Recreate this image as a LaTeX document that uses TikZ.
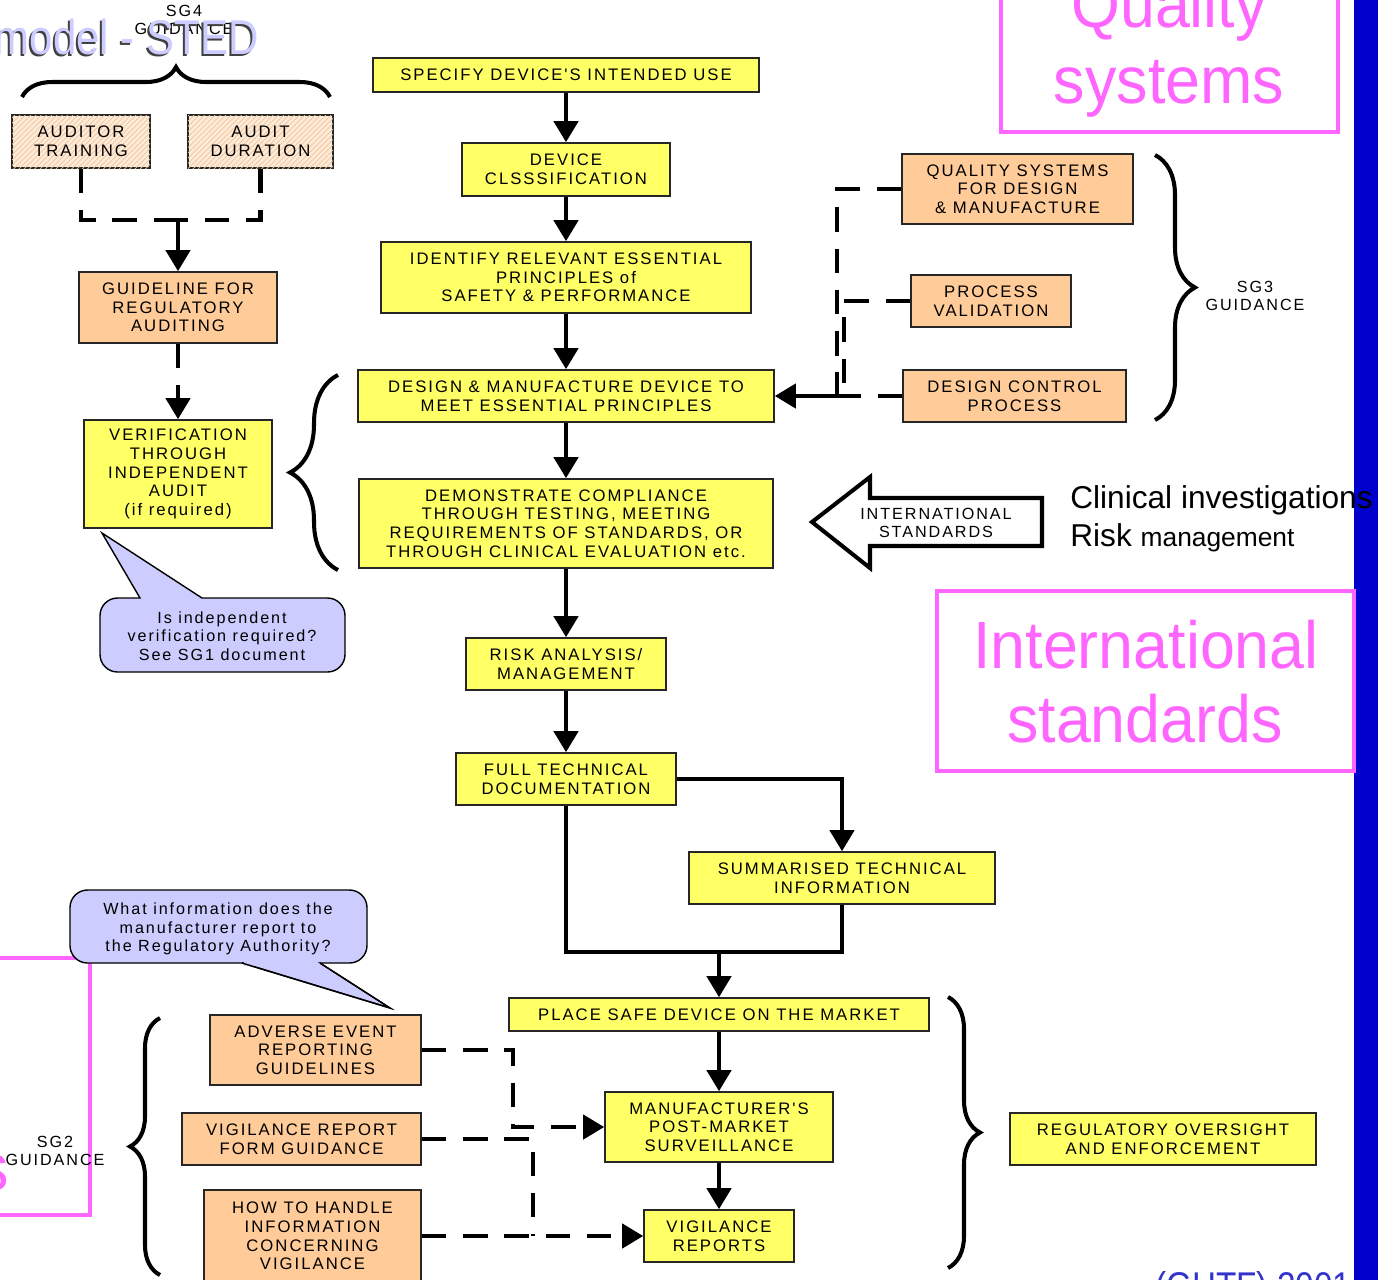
\documentclass[tikz,border=0pt]{standalone}
\usepackage{fontspec}
\setmainfont{Liberation Sans}
\newfontfamily\spaced[LetterSpace=12]{Liberation Sans}
\newfontfamily\bigsans[FakeStretch=0.94]{Liberation Sans}
\newfontfamily\titlesans[FakeStretch=0.86]{Liberation Sans}
\usetikzlibrary{arrows.meta,decorations.pathreplacing,patterns}

\definecolor{boxyellow}{HTML}{FFFF66}
\definecolor{boxpeach}{HTML}{FFCC99}
\definecolor{hatchbase}{HTML}{FDEBD8}
\definecolor{hatchline}{HTML}{F0C49C}
\definecolor{calloutfill}{HTML}{CCCCFF}
\definecolor{slidepink}{HTML}{FF66FF}
\definecolor{slideblue}{HTML}{0000CC}
\definecolor{creditblue}{HTML}{3333CC}

% box given by its pixel corners: name, style, x1, y1, x2, y2, text
\newcommand\flowbox[7]{\node[#2, minimum width={(#5-#3)*0.02cm}, minimum height={(#6-#4)*0.02cm}] (#1) at ({(#3+#5)/2},{(#4+#6)/2}) {#7};}

\tikzset{
  boxbase/.style={draw=black!85, line width=0.8pt, inner sep=0pt, align=center,
    font=\spaced\fontsize{9.5}{10.6}\selectfont},
  ybox/.style={boxbase, fill=boxyellow},
  pbox/.style={boxbase, fill=boxpeach},
  hbox/.style={boxbase, fill=hatchbase, postaction={pattern=north east lines, pattern color=hatchline}},
  flow/.style={line width=2.8pt},
  arr/.style={flow, -{Triangle[length=12pt,width=13.5pt]}},
  dsh/.style={flow, dash pattern=on 14pt off 9.5pt},
  darr/.style={dsh, -{Triangle[length=12pt,width=13.5pt]}},
  bracket/.style={line width=2.3pt, decorate, decoration={brace, amplitude=#1}},
  callout/.style={draw=black, line width=0.8pt, fill=calloutfill},
  calltext/.style={align=center, inner sep=0pt, font=\spaced\fontsize{9.2}{10.4}\selectfont},
  sglabel/.style={align=center, inner sep=0pt, font=\spaced\fontsize{9.2}{10.4}\selectfont},
  pinkframe/.style={draw=slidepink, line width=2.4pt},
  pinktext/.style={text=slidepink, inner sep=0pt, font=\bigsans\fontsize{38}{42}\selectfont},
}

\begin{document}
\begin{tikzpicture}[x=0.02cm, y=-0.02cm]
\useasboundingbox (0,0) rectangle (1378,1279);
\begin{scope}
\clip (0,0) rectangle (1378,1279);

% slide decorations
\fill[slideblue] (1354,-5) rectangle (1385,1285);
\draw[pinkframe] (1001,-20) rectangle (1338,132);
\node[pinktext, anchor=base] (qtitle) at (1169,27) {Quality};
\node[pinktext, anchor=base] (stitle) at (1169,103) {systems};
\draw[pinkframe] (937,591) rectangle (1354,771);
\node[pinktext, anchor=base] (ititle) at (1146,668) {International};
\node[pinktext, anchor=base] (sdtitle) at (1145,742) {standards};
\draw[pinkframe] (-20,958) -- (90,958) -- (90,1215) -- (-20,1215);
\node[pinktext, anchor=base east] (leftpink) at (9,1190) {s};
\node[anchor=base west, inner sep=0pt, text=creditblue, font=\titlesans\fontsize{22}{24}\selectfont] (credit) at (1155,1299) {(GHTF) 2001};

% SG4 group
\node[sglabel] (sg4) at (184,20) {SG4\\GUIDANCE};
\node[anchor=base east, inner sep=0pt, text=black!75, font=\titlesans\fontsize{27.8}{30}\selectfont] (titleshadow) at (257,56) {model - STED};
\node[anchor=base east, inner sep=0pt, text=calloutfill, font=\titlesans\fontsize{27.8}{30}\selectfont] (title) at (259,54) {model - STED};
\draw[bracket=0.6cm] (22,97) -- (330,97);

\flowbox{at}{hbox}{12}{115}{150}{168}{AUDITOR\\TRAINING}
\flowbox{ad}{hbox}{188}{115}{333}{168}{AUDIT\\DURATION}
\flowbox{guide}{pbox}{79}{272}{277}{343}{GUIDELINE FOR\\REGULATORY\\AUDITING}
\flowbox{verif}{ybox}{84}{420}{272}{528}{VERIFICATION\\THROUGH\\INDEPENDENT\\AUDIT\\(if required)}

\coordinate (sg4join) at (178,220);
\draw[dsh] (at.south) |- (sg4join);
\draw[dsh] (ad.south) |- (sg4join);
\draw[arr] (sg4join) -- (guide.north);
\draw[darr] (guide.south) -- (verif.north);

% first callout
\draw[callout] (202,598) [rounded corners=10pt] -- (345,598) -- (345,672) -- (100,672) -- (100,598) [sharp corners] -- (140,598) -- (102,533) -- cycle;
\node[calltext] (callone) at (222,636) {Is independent\\verification required?\\See SG1 document};

% main column
\flowbox{specify}{ybox}{373}{58}{759}{92}{SPECIFY DEVICE'S INTENDED USE}
\flowbox{device}{ybox}{462}{143}{670}{196}{DEVICE\\CLSSSIFICATION}
\flowbox{identify}{ybox}{381}{242}{751}{313}{IDENTIFY RELEVANT ESSENTIAL\\PRINCIPLES of\\SAFETY \& PERFORMANCE}
\flowbox{design}{ybox}{358}{370}{774}{422}{DESIGN \& MANUFACTURE DEVICE TO\\MEET ESSENTIAL PRINCIPLES}
\flowbox{demo}{ybox}{359}{479}{773}{568}{DEMONSTRATE COMPLIANCE\\THROUGH TESTING, MEETING\\REQUIREMENTS OF STANDARDS, OR\\THROUGH CLINICAL EVALUATION etc.}
\flowbox{risk}{ybox}{466}{638}{666}{690}{RISK ANALYSIS/\\MANAGEMENT}
\flowbox{fulltech}{ybox}{456}{753}{676}{805}{FULL TECHNICAL\\DOCUMENTATION}
\flowbox{summ}{ybox}{689}{852}{995}{904}{SUMMARISED TECHNICAL\\INFORMATION}
\flowbox{market}{ybox}{509}{998}{929}{1031}{PLACE SAFE DEVICE ON THE MARKET}
\flowbox{mps}{ybox}{605}{1092}{833}{1162}{MANUFACTURER'S\\POST-MARKET\\SURVEILLANCE}
\flowbox{vr}{ybox}{644}{1210}{794}{1262}{VIGILANCE\\REPORTS}
\flowbox{regov}{ybox}{1010}{1113}{1316}{1165}{REGULATORY OVERSIGHT\\AND ENFORCEMENT}

\draw[arr] (specify) -- (device);
\draw[arr] (device) -- (identify);
\draw[arr] (identify) -- (design);
\draw[arr] (design) -- (demo);
\draw[arr] (demo) -- (risk);
\draw[arr] (risk) -- (fulltech);
\draw[arr] (fulltech.east) -| (summ.north);
\coordinate (merge) at (719,952);
\draw[flow] (fulltech.south) |- (merge);
\draw[flow] (summ.south) |- (merge);
\draw[arr] (merge) -- (market.north);
\draw[arr] (market) -- (mps);
\draw[arr] (mps) -- (vr);

\draw[bracket=0.96cm] (338,570) -- (338,375);
\draw[bracket=0.64cm] (948,997) -- (948,1268);

% SG3 group
\flowbox{qs}{pbox}{902}{154}{1133}{224}{QUALITY SYSTEMS\\FOR DESIGN\\\& MANUFACTURE}
\flowbox{pv}{pbox}{911}{275}{1071}{327}{PROCESS\\VALIDATION}
\flowbox{dcp}{pbox}{903}{370}{1126}{422}{DESIGN CONTROL\\PROCESS}
\coordinate (qsbus) at (837,396);
\coordinate (pvbus) at (844,396);
\coordinate (bus) at (842,396);
\draw[dsh] (qs.west) -| (qsbus);
\draw[dsh] (pv.west) -| (pvbus);
\draw[dsh] (dcp.west) -- (bus);
\draw[arr] (bus) -- (design.east);
\draw[bracket=0.8cm] (1155,155) -- (1155,420);
\node[sglabel] (sg3) at (1255,296) {SG3\\GUIDANCE};

% international standards arrow
\draw[line width=2.3pt, fill=white] (1042,498) -- (870,498) -- (870,477) -- (812,522) -- (870,568) -- (870,546) -- (1042,546) -- cycle;
\node[sglabel] (intltext) at (936,523) {INTERNATIONAL\\STANDARDS};
\node[anchor=base west, inner sep=0pt, font=\fontsize{18}{20}\selectfont] (clin) at (1070,508) {Clinical investigations};
\node[anchor=base west, inner sep=0pt, font=\fontsize{18}{20}\selectfont] (riskm) at (1070,546) {Risk {\fontsize{15}{17}\selectfont management}};

% SG2 group
\draw[callout] (320,963) [rounded corners=10pt] -- (70,963) -- (70,890) -- (367,890) -- (367,963) [sharp corners] -- (320,963) -- cycle;
\draw[callout] (242,963) -- (390,1008) -- (320,963);
\fill[calloutfill] (244,961.5) rectangle (318,966);
\draw[line width=0.8pt] (242,963) -- (390,1008) -- (320,963);
\node[calltext] (calltwo) at (218,929) {What information does the\\manufacturer report to\\the Regulatory Authority?};

\flowbox{aer}{pbox}{210}{1015}{421}{1085}{ADVERSE EVENT\\REPORTING\\GUIDELINES}
\flowbox{vrf}{pbox}{182}{1113}{421}{1165}{VIGILANCE REPORT\\FORM GUIDANCE}
\flowbox{hth}{pbox}{204}{1190}{421}{1282}{HOW TO HANDLE\\INFORMATION\\CONCERNING\\VIGILANCE}
\coordinate (aerturn) at (513,1127);
\coordinate (vrfturn) at (533,1236);
\draw[darr] (aer.east) -| (aerturn) -- (mps.west);
\draw[dsh] (vrf.east) -| (vrfturn);
\draw[darr] (hth.east) -- (vr.west);
\draw[bracket=0.6cm] (160,1275) -- (160,1018);
\node[sglabel] (sg2) at (55,1151) {SG2\\GUIDANCE};

\end{scope}
\end{tikzpicture}
\end{document}
